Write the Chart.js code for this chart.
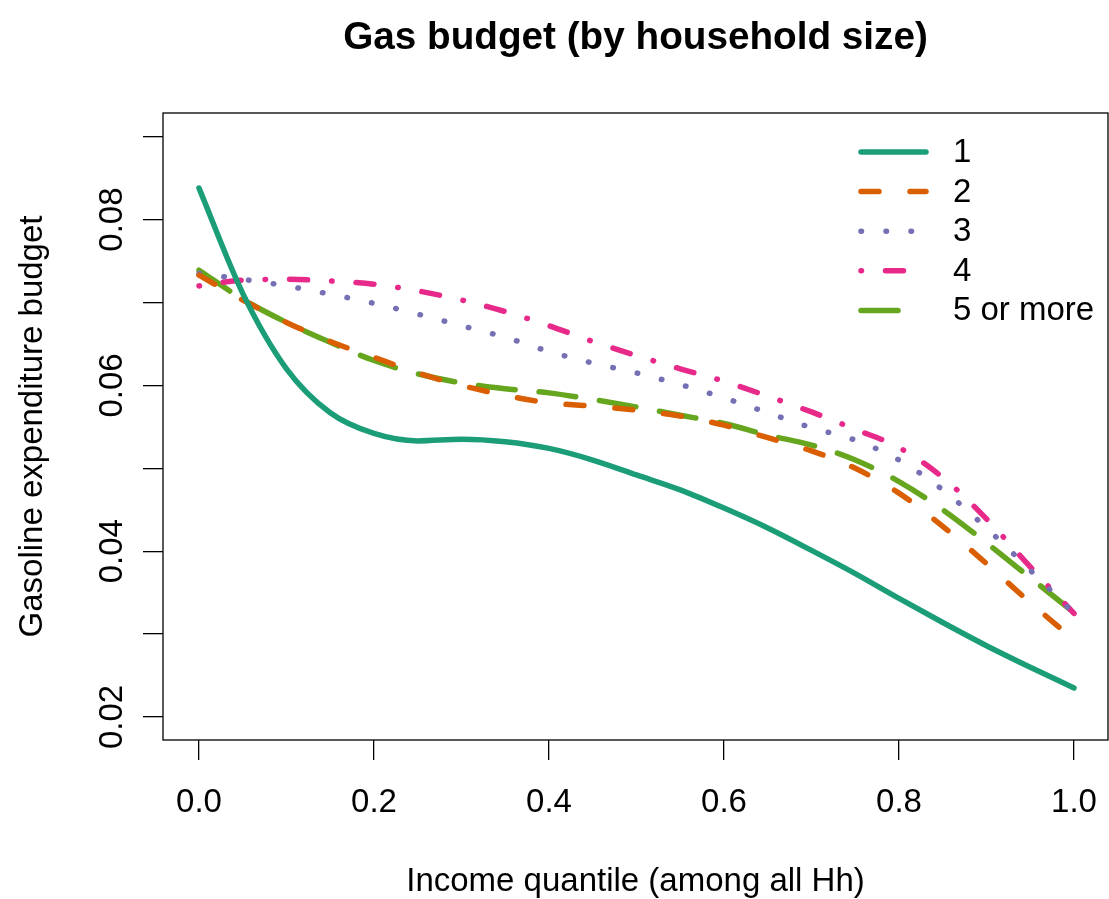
<!DOCTYPE html>
<html>
<head>
<meta charset="utf-8">
<script src="https://cdn.jsdelivr.net/npm/chart.js@4/dist/chart.umd.min.js"></script>
<style>
  html, body { margin: 0; padding: 0; background: #fff; }
  #wrap { width: 1109px; height: 899px; }
</style>
</head>
<body>
<div id="wrap"><canvas id="chart" width="1109" height="899"></canvas></div>
<script>
// Income quantile grid shared by every series
const quantiles = [0, 0.05, 0.1, 0.15, 0.2, 0.25, 0.3, 0.35, 0.4, 0.45, 0.5,
                   0.55, 0.6, 0.65, 0.7, 0.75, 0.8, 0.85, 0.9, 0.95, 1.0];

// Gasoline expenditure budget share, by household size
const hhSize1 = [0.0838, 0.0711, 0.0620, 0.0567, 0.0542, 0.0533, 0.0535, 0.0532, 0.0524, 0.0510, 0.0492,
                 0.0474, 0.0452, 0.0428, 0.0401, 0.0373, 0.0343, 0.0314, 0.0286, 0.0260, 0.0235];
const hhSize2 = [0.0733, 0.0703, 0.0676, 0.0653, 0.0634, 0.0615, 0.0600, 0.0588, 0.0579, 0.0575, 0.0570,
                 0.0563, 0.0552, 0.0537, 0.0521, 0.0500, 0.0470, 0.0430, 0.0385, 0.0338, 0.0293];
const hhSize3 = [0.0735, 0.0728, 0.0720, 0.0710, 0.0699, 0.0686, 0.0672, 0.0658, 0.0641, 0.0627, 0.0615,
                 0.0601, 0.0585, 0.0567, 0.0549, 0.0534, 0.0510, 0.0474, 0.0428, 0.0377, 0.0325];
const hhSize4 = [0.0720, 0.0727, 0.0728, 0.0726, 0.0722, 0.0714, 0.0703, 0.0689, 0.0672, 0.0653, 0.0636,
                 0.0620, 0.0605, 0.0587, 0.0568, 0.0547, 0.0525, 0.0489, 0.0439, 0.0381, 0.0325];
const hhSize5 = [0.0739, 0.0704, 0.0676, 0.0652, 0.0630, 0.0614, 0.0603, 0.0596, 0.0591, 0.0583, 0.0574,
                 0.0564, 0.0554, 0.0540, 0.0528, 0.0510, 0.0484, 0.0450, 0.0410, 0.0368, 0.0326];

const seriesNames = ['1', '2', '3', '4', '5 or more'];
const seriesValues = [hhSize1, hhSize2, hhSize3, hhSize4, hhSize5];

// Axis ticks
const xTickValues = [0, 0.2, 0.4, 0.6, 0.8, 1.0];
const yTickValues = [0.02, 0.03, 0.04, 0.05, 0.06, 0.07, 0.08, 0.09];
const yTickLabelled = [0.02, 0.04, 0.06, 0.08];

// Dark2 colours and R-style line types (solid, dashed, dotted, dotdash, longdash)
const palette = ['#1B9E77', '#D95F02', '#7570B3', '#E7298A', '#66A61E'];
const dashes = [[], [18, 31], [0.5, 24.5], [0.5, 24, 18, 24], [37, 24]];

const FONT = '"Liberation Sans", Arial, Helvetica, sans-serif';
const LINE_W = 5.5;

const datasets = seriesValues.map((vals, i) => ({
  label: seriesNames[i],
  data: quantiles.map((q, j) => ({ x: q, y: vals[j] })),
  borderColor: palette[i],
  backgroundColor: palette[i],
  borderWidth: LINE_W,
  borderDash: dashes[i],
  borderCapStyle: 'round',
  borderJoinStyle: 'round',
  pointRadius: 0,
  fill: false,
  cubicInterpolationMode: 'monotone'
}));

// Frame around the plotting region
const frame = {
  id: 'frame',
  afterDraw(chart) {
    const { ctx, chartArea: a } = chart;
    ctx.save();
    ctx.strokeStyle = '#000';
    ctx.lineWidth = 1.3;
    ctx.strokeRect(a.left, a.top, a.right - a.left, a.bottom - a.top);
    ctx.restore();
  }
};

// Boxless legend in the upper right of the plot; each sample segment walks the
// series' dash pattern and skips stubs that a pattern cut short at the end.
const lineLegend = {
  id: 'lineLegend',
  afterDatasetsDraw(chart) {
    const { ctx } = chart;
    const x0 = 861, x1 = 926, tx = 953, y0 = 152, step = 39.6;
    ctx.save();
    chart.data.datasets.forEach((ds, i) => {
      const y = y0 + i * step;
      ctx.strokeStyle = ds.borderColor;
      ctx.lineWidth = ds.borderWidth;
      ctx.lineCap = 'round';
      const pat = ds.borderDash;
      ctx.beginPath();
      if (!pat.length) {
        ctx.moveTo(x0, y);
        ctx.lineTo(x1, y);
      } else {
        let pos = x0, k = 0;
        while (pos < x1) {
          const len = pat[k % pat.length];
          if (k % 2 === 0) {
            const end = Math.min(pos + len, x1);
            if (end === pos + len || end - pos >= 10) {
              ctx.moveTo(pos, y);
              ctx.lineTo(end, y);
            }
          }
          pos += len;
          k++;
        }
      }
      ctx.stroke();
      ctx.fillStyle = '#000';
      ctx.font = '33px ' + FONT;
      ctx.textAlign = 'left';
      ctx.textBaseline = 'middle';
      ctx.fillText(ds.label, tx, y + 1);
    });
    ctx.restore();
  }
};

new Chart(document.getElementById('chart'), {
  type: 'line',
  data: { datasets },
  plugins: [frame, lineLegend],
  options: {
    responsive: false,
    animation: false,
    devicePixelRatio: 1,
    layout: { padding: { top: 0, right: 1, bottom: 0, left: 0 } },
    plugins: {
      legend: { display: false },
      tooltip: { enabled: false },
      title: {
        display: true,
        fullSize: false,
        text: 'Gas budget (by household size)',
        color: '#000',
        font: { family: FONT, size: 38.7, weight: 'bold', lineHeight: 1.2 },
        padding: { top: 15, bottom: 113 - 15 - 38.7 * 1.2 }
      }
    },
    scales: {
      x: {
        type: 'linear',
        min: -0.04114,
        max: 1.03886,
        afterBuildTicks: s => { s.ticks = xTickValues.map(v => ({ value: v })); },
        afterFit: s => { s.height = 159; s.paddingLeft = 0; s.paddingRight = 0; },
        border: { display: false },
        grid: { drawOnChartArea: false, drawTicks: true, tickLength: 20, color: '#000', lineWidth: 1.3 },
        ticks: {
          color: '#000',
          font: { family: FONT, size: 33 },
          padding: 23,
          maxRotation: 0,
          autoSkip: false,
          callback: v => Number(v).toFixed(1)
        },
        title: {
          display: true,
          text: 'Income quantile (among all Hh)',
          color: '#000',
          font: { family: FONT, size: 33 },
          padding: { top: 0, bottom: -3 }
        }
      },
      y: {
        type: 'linear',
        min: 0.017226,
        max: 0.092859,
        afterBuildTicks: s => { s.ticks = yTickValues.map(v => ({ value: v })); },
        afterFit: s => { s.width = 163; s.paddingTop = 0; s.paddingBottom = 0; },
        border: { display: false },
        grid: { drawOnChartArea: false, drawTicks: true, tickLength: 20, color: '#000', lineWidth: 1.3 },
        ticks: {
          color: '#000',
          font: { family: FONT, size: 33 },
          padding: -2,
          minRotation: 90,
          maxRotation: 90,
          crossAlign: 'center',
          autoSkip: false,
          callback: v => yTickLabelled.some(t => Math.abs(t - v) < 1e-9) ? Number(v).toFixed(2) : ''
        },
        title: {
          display: true,
          text: 'Gasoline expenditure budget',
          color: '#000',
          font: { family: FONT, size: 33 },
          padding: { top: 13, bottom: 0 }
        }
      }
    }
  }
});
</script>
</body>
</html>
